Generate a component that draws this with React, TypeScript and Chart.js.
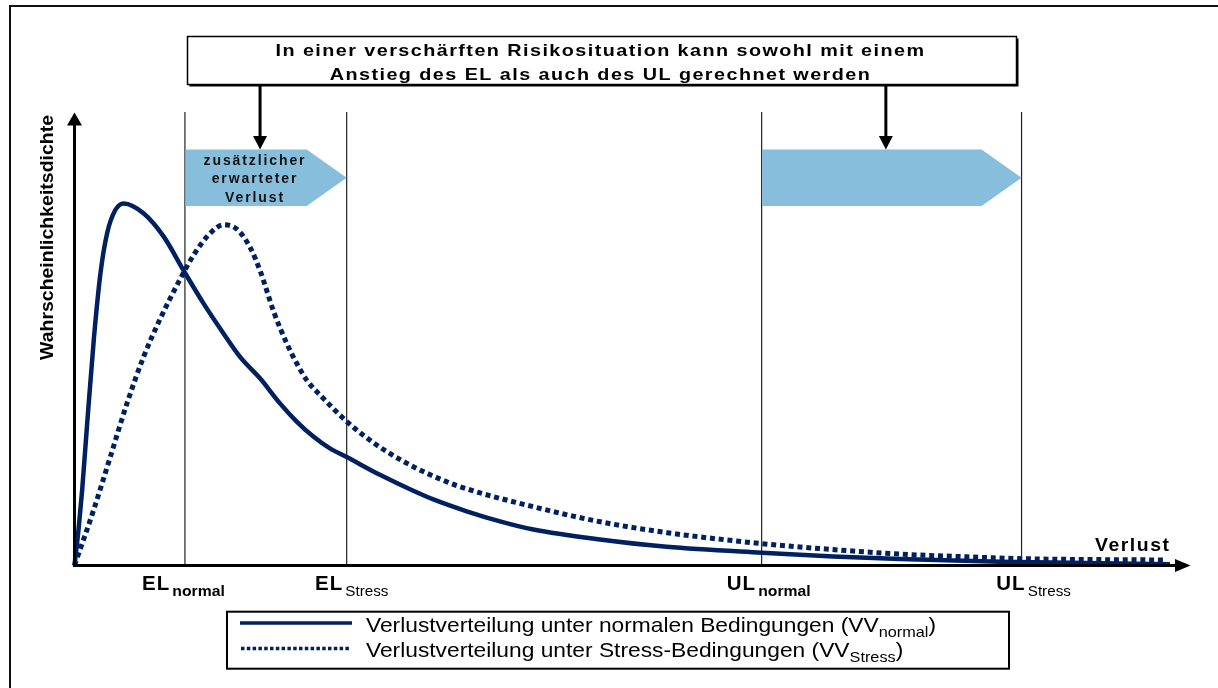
import React, { useEffect, useRef } from "react";
import { Chart, registerables } from "chart.js";

Chart.register(...registerables);

// ---------------- data ----------------
const normalX = [0, 0.39, 0.69, 1.14, 1.73, 2.33, 2.93, 3.67, 4.42, 6.21, 8.0, 9.75, 11.55, 13.34, 14.84, 16.63, 18.42, 19.92, 21.41, 22.9, 24.4, 27.38, 30.37, 32.17, 35.16, 38.14, 41.13, 47.11, 53.09, 61.6, 68.01, 74.01, 82.97, 91.94, 98.2];
const normalY = [0, 8.6, 16.7, 31.3, 49.6, 64.2, 73.0, 78.1, 79.5, 77.3, 72.2, 64.9, 57.6, 51.0, 45.8, 41.1, 35.6, 31.6, 28.3, 25.7, 23.8, 19.9, 16.4, 14.5, 11.9, 9.7, 7.9, 5.7, 4.1, 2.8, 2.0, 1.4, 0.8, 0.5, 0.3];

const stressX = [0, 1.73, 3.23, 4.72, 6.21, 7.71, 9.2, 10.69, 12.03, 13.38, 14.58, 15.77, 16.67, 17.86, 19.02, 19.92, 20.82, 22.3, 24.1, 25.89, 27.99, 30.37, 32.47, 34.56, 41.13, 47.13, 53.14, 61.65, 68.01, 74.01, 80.02, 84.86, 97.9];
const stressY = [0, 12.3, 24.0, 35.7, 45.9, 54.3, 61.6, 68.2, 72.6, 74.8, 73.8, 69.7, 64.5, 55.7, 48.8, 44.4, 40.7, 36.7, 32.3, 28.6, 25.0, 21.7, 19.3, 17.3, 12.9, 9.6, 7.2, 4.8, 3.5, 2.5, 1.9, 1.5, 1.2];

const markerX = [9.9, 24.4, 61.6, 84.9];
const markerMain = ["EL", "EL", "UL", "UL"];
const markerSub = ["normal", "Stress", "normal", "Stress"];

const boxLines = [
  "In einer verschärften Risikosituation kann sowohl mit einem",
  "Anstieg des EL als auch des UL gerechnet werden",
];
const arrowTextLines = ["zusätzlicher", "erwarteter", "Verlust"];
const yTitle = "Wahrscheinlichkeitsdichte";
const xTitle = "Verlust";
const legendMain = [
  "Verlustverteilung unter normalen Bedingungen (VV",
  "Verlustverteilung unter Stress-Bedingungen (VV",
];
const legendSub = ["normal", "Stress"];

// ---------------- styles ----------------
const NAVY = "#002060";
const SKY = "#86BEDC";
const FF = '"Liberation Sans", Arial, Helvetica, sans-serif';

type Part = { t: string; font: string; dy?: number; gap?: number; ls?: number };

function setPart(ctx: any, p: Part) {
  ctx.font = p.font;
  ctx.letterSpacing = `${p.ls || 0}px`;
}

function partsWidth(ctx: CanvasRenderingContext2D, parts: Part[]) {
  let w = 0;
  parts.forEach((p) => {
    setPart(ctx, p);
    w += ctx.measureText(p.t).width + (p.gap || 0);
  });
  (ctx as any).letterSpacing = "0px";
  return w;
}

function drawParts(
  ctx: CanvasRenderingContext2D,
  parts: Part[],
  x: number,
  y: number,
  sx: number,
  align: "left" | "center"
) {
  const total = partsWidth(ctx, parts) * sx;
  let cx = align === "center" ? x - total / 2 : x;
  parts.forEach((p) => {
    ctx.save();
    setPart(ctx, p);
    const w = ctx.measureText(p.t).width;
    ctx.translate(cx, y + (p.dy || 0));
    ctx.scale(sx, 1);
    ctx.textAlign = "left";
    ctx.textBaseline = "alphabetic";
    ctx.fillText(p.t, 0, 0);
    ctx.restore();
    cx += (w + (p.gap || 0)) * sx;
  });
  (ctx as any).letterSpacing = "0px";
}

function line(ctx: CanvasRenderingContext2D, x1: number, y1: number, x2: number, y2: number) {
  ctx.beginPath();
  ctx.moveTo(x1, y1);
  ctx.lineTo(x2, y2);
  ctx.stroke();
}

const diagramPlugin = {
  id: "diagram",
  beforeDatasetsDraw(chart: any) {
    const { ctx } = chart;
    const xs = chart.scales.x;
    const ys = chart.scales.y;
    const base = ys.getPixelForValue(0);
    const top = chart.chartArea.top;
    ctx.save();

    // outer frame
    ctx.strokeStyle = "#111";
    ctx.lineWidth = 2;
    ctx.beginPath();
    ctx.moveTo(10, 700);
    ctx.lineTo(10, 6);
    ctx.lineTo(1230, 6);
    ctx.stroke();

    // vertical marker lines
    ctx.strokeStyle = "#222";
    ctx.lineWidth = 1.2;
    markerX.forEach((v) => {
      const px = xs.getPixelForValue(v);
      line(ctx, px, top + 2, px, base);
    });

    // blue arrows + down arrows
    [[0, 1], [2, 3]].forEach(([a, b]) => {
      const x1 = xs.getPixelForValue(markerX[a]) + 0.5;
      const x2 = xs.getPixelForValue(markerX[b]);
      ctx.fillStyle = SKY;
      ctx.beginPath();
      ctx.moveTo(x1, 149.5);
      ctx.lineTo(x2 - 40, 149.5);
      ctx.lineTo(x2, 177.7);
      ctx.lineTo(x2 - 40, 206);
      ctx.lineTo(x1, 206);
      ctx.closePath();
      ctx.fill();

      const ax = (x1 + x2) / 2 - 6;
      ctx.strokeStyle = "#000";
      ctx.lineWidth = 3;
      line(ctx, ax, 85, ax, 138);
      ctx.fillStyle = "#000";
      ctx.beginPath();
      ctx.moveTo(ax - 7, 136);
      ctx.lineTo(ax + 7, 136);
      ctx.lineTo(ax, 149.5);
      ctx.closePath();
      ctx.fill();
    });

    // text inside first blue arrow
    ctx.fillStyle = "#111";
    const af = `bold 14px ${FF}`;
    const acx = 255;
    const aBase = [164.5, 183, 201.5];
    arrowTextLines.forEach((t, i) => {
      drawParts(ctx, [{ t, font: af, ls: 1.9 }], acx, aBase[i], 1.0, "center");
    });

    // top box with shadow
    ctx.fillStyle = "#000";
    ctx.fillRect(189.5, 38.5, 829, 48);
    ctx.fillStyle = "#fff";
    ctx.fillRect(187.5, 36.5, 829, 48);
    ctx.strokeStyle = "#000";
    ctx.lineWidth = 1.5;
    ctx.strokeRect(187.5, 36.5, 829, 48);

    ctx.fillStyle = "#000";
    const bf = `bold 16.5px ${FF}`;
    const l1: Part[] = [{ t: boxLines[0], font: bf, ls: 1.2 }];
    const sxBox = 650 / partsWidth(ctx, l1);
    drawParts(ctx, l1, 600.5, 55.5, sxBox, "center");
    drawParts(ctx, [{ t: boxLines[1], font: bf, ls: 1.2 }], 600.5, 79.5, sxBox, "center");

    // y title
    ctx.save();
    ctx.translate(53, 237.5);
    ctx.rotate(-Math.PI / 2);
    const yt = [{ t: yTitle, font: `bold 18px ${FF}` }];
    drawParts(ctx, yt, 0, 0, 245 / partsWidth(ctx, yt), "center");
    ctx.restore();

    // x title
    const xt = [{ t: xTitle, font: `bold 19px ${FF}`, ls: 1.5 }];
    drawParts(ctx, xt, 1095, 551, 75.5 / partsWidth(ctx, xt), "left");

    // marker labels
    const labelDx = [-1.5, 5, 7, 12];
    markerX.forEach((v, i) => {
      const px = xs.getPixelForValue(v);
      const sub = markerSub[i];
      const subFont = sub === "normal" ? `bold 15px ${FF}` : `14.5px ${FF}`;
      drawParts(
        ctx,
        [
          { t: markerMain[i], font: `bold 19.5px ${FF}`, gap: 2, ls: 1 },
          { t: sub, font: subFont, dy: 6 },
        ],
        px + labelDx[i],
        590,
        1.05,
        "center"
      );
    });

    // legend
    ctx.strokeStyle = "#000";
    ctx.lineWidth = 2;
    ctx.strokeRect(227, 611.7, 782, 57);
    ctx.strokeStyle = NAVY;
    ctx.lineWidth = 3.3;
    ctx.lineCap = "butt";
    line(ctx, 240, 623, 352, 623);
    ctx.setLineDash([3.5, 2.3]);
    line(ctx, 241, 648.5, 351, 648.5);
    ctx.setLineDash([]);

    ctx.fillStyle = "#000";
    const lf = `21px ${FF}`;
    const sf = `15px ${FF}`;
    const leg1: Part[] = [
      { t: legendMain[0], font: lf },
      { t: legendSub[0], font: sf, dy: 5 },
      { t: ")", font: lf },
    ];
    const sxLeg = 570 / partsWidth(ctx, leg1);
    drawParts(ctx, leg1, 366, 632, sxLeg, "left");
    drawParts(
      ctx,
      [
        { t: legendMain[1], font: lf },
        { t: legendSub[1], font: sf, dy: 5 },
        { t: ")", font: lf },
      ],
      366,
      656.5,
      sxLeg,
      "left"
    );

    ctx.restore();
  },
  afterDatasetsDraw(chart: any) {
    const { ctx } = chart;
    const xs = chart.scales.x;
    const ys = chart.scales.y;
    const ox = xs.getPixelForValue(0);
    const oy = ys.getPixelForValue(0);
    ctx.save();
    ctx.strokeStyle = "#000";
    ctx.fillStyle = "#000";
    ctx.lineWidth = 3;
    // y axis
    line(ctx, ox, oy + 1.5, ox, 124);
    ctx.beginPath();
    ctx.moveTo(ox - 7.5, 125.5);
    ctx.lineTo(ox + 7.5, 125.5);
    ctx.lineTo(ox, 112.5);
    ctx.closePath();
    ctx.fill();
    // x axis
    line(ctx, ox - 1.5, oy, 1177, oy);
    ctx.beginPath();
    ctx.moveTo(1175, oy - 6.5);
    ctx.lineTo(1175, oy + 6.5);
    ctx.lineTo(1190.5, oy);
    ctx.closePath();
    ctx.fill();
    ctx.restore();
  },
};

export default function App() {
  const ref = useRef<HTMLCanvasElement | null>(null);

  useEffect(() => {
    if (!ref.current) return;
    const chart = new Chart(ref.current, {
      type: "line",
      data: {
        datasets: [
          {
            label: "VV normal",
            data: normalX.map((v, i) => ({ x: v, y: normalY[i] })),
            borderColor: NAVY,
            borderWidth: 4.5,
            pointRadius: 0,
            fill: false,
            cubicInterpolationMode: "monotone",
            clip: 20,
          },
          {
            label: "VV Stress",
            data: stressX.map((v, i) => ({ x: v, y: stressY[i] })),
            borderColor: NAVY,
            borderWidth: 5,
            borderDash: [5, 3.8],
            borderCapStyle: "butt",
            pointRadius: 0,
            fill: false,
            cubicInterpolationMode: "monotone",
            clip: 20,
          },
        ],
      },
      options: {
        animation: false,
        responsive: true,
        maintainAspectRatio: false,
        devicePixelRatio: 1,
        layout: { padding: { left: 74.5, top: 110, right: 28, bottom: 122.5 } },
        plugins: {
          legend: { display: false },
          tooltip: { enabled: false },
          title: { display: false },
        },
        scales: {
          x: { type: "linear", min: 0, max: 100, display: false },
          y: { type: "linear", min: 0, max: 100, display: false },
        },
        events: [],
      },
      plugins: [diagramPlugin],
    } as any);
    return () => chart.destroy();
  }, []);

  return (
    <div
      style={{
        position: "fixed",
        left: 0,
        top: 0,
        width: 1218,
        height: 688,
        background: "#fff",
        overflow: "hidden",
      }}
    >
      <canvas ref={ref} />
    </div>
  );
}
